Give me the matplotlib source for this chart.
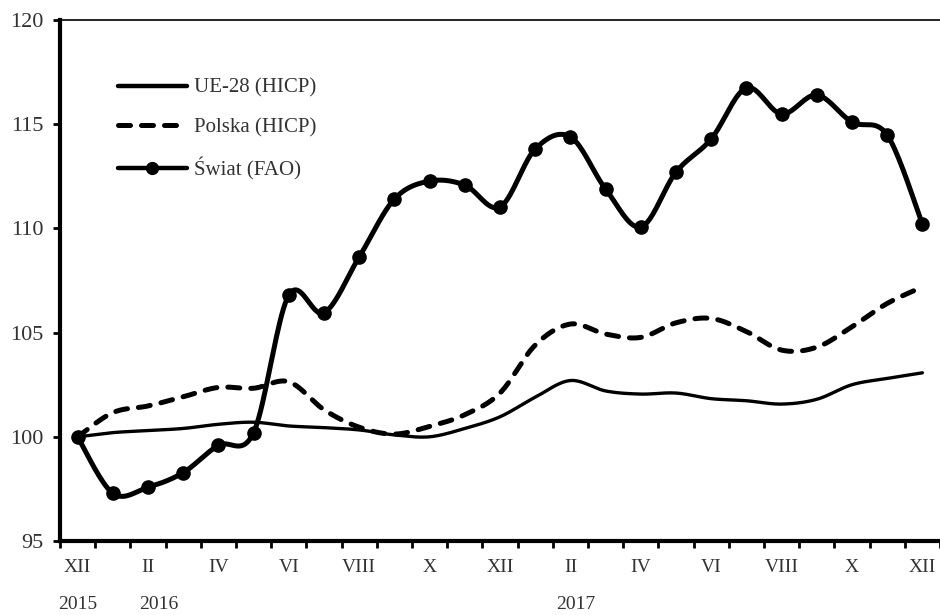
import numpy as np
import matplotlib
matplotlib.use("Agg")
import matplotlib.pyplot as plt
from matplotlib.lines import Line2D

# months XII 2015 .. XII 2017
month_labels = ["XII", "I", "II", "III", "IV", "V", "VI", "VII", "VIII", "IX", "X", "XI",
                "XII", "I", "II", "III", "IV", "V", "VI", "VII", "VIII", "IX", "X", "XI", "XII"]
year_labels = ["2015", "2016", "2017"]
year_pos = [0, 2.3, 14.15]

ue28 = [100.0, 100.2, 100.3, 100.4, 100.6, 100.7, 100.52, 100.44, 100.33, 100.09, 100.0, 100.4,
        100.96, 101.9, 102.7, 102.2, 102.05, 102.1, 101.83, 101.73, 101.57, 101.8, 102.5, 102.8, 103.07]
polska = [100.0, 101.16, 101.48, 101.92, 102.37, 102.33, 102.64, 101.3, 100.46, 100.13, 100.5, 101.06,
          102.1, 104.4, 105.41, 104.93, 104.77, 105.47, 105.68, 105.05, 104.16, 104.3, 105.28, 106.4, 107.19]
swiat = [100.0, 97.29, 97.58, 98.28, 99.59, 100.2, 106.8, 105.95, 108.63, 111.41, 112.27, 112.08,
         111.03, 113.81, 114.39, 111.89, 110.07, 112.7, 114.29, 116.74, 115.49, 116.4, 115.1, 114.48, 110.21]

series_names = ["UE-28 (HICP)", "Polska (HICP)", "Świat (FAO)"]

TXT = "#333333"
DASH = (0, (2.4, 2.2))


def smooth(x, y, n=20):
    # Catmull-Rom spline through the points (like Excel "smoothed line")
    p = np.column_stack([x, y]).astype(float)
    p = np.vstack([p[0], p, p[-1]])
    out = []
    t = np.linspace(0, 1, n, endpoint=False)[:, None]
    for i in range(1, len(p) - 2):
        p0, p1, p2, p3 = p[i - 1], p[i], p[i + 1], p[i + 2]
        seg = 0.5 * ((2 * p1) + (-p0 + p2) * t + (2 * p0 - 5 * p1 + 4 * p2 - p3) * t ** 2
                     + (-p0 + 3 * p1 - 3 * p2 + p3) * t ** 3)
        out.append(seg)
    out.append(p[-2][None, :])
    out = np.vstack(out)
    return out[:, 0], out[:, 1]


plt.rcParams["font.family"] = ["Liberation Serif", "DejaVu Serif"]

fig = plt.figure(figsize=(9.4, 6.15), dpi=100)
ax = fig.add_axes([60 / 940, 74 / 615, 880 / 940, 521 / 615])

x = np.arange(len(month_labels))

sx, sy = smooth(x, ue28)
ax.plot(sx, sy, color="black", lw=2.4, solid_capstyle="round")
sx, sy = smooth(x, polska)
ax.plot(sx, sy, color="black", lw=3.6, linestyle=DASH, dash_capstyle="round")
sx, sy = smooth(x, swiat)
ax.plot(sx, sy, color="black", lw=3.6, solid_capstyle="round")
ax.plot(x, swiat, linestyle="none", marker="o", markersize=9.5, color="black")

ax.set_xlim(-0.5, len(month_labels) - 0.5)
ax.set_ylim(95, 120)
ax.set_yticks(np.arange(95, 121, 5))

ax.set_xticks(np.arange(-0.5, len(month_labels), 1))
ax.set_xticklabels([])
ax.set_xticks(x[::2], minor=True)
ax.set_xticklabels(month_labels[::2], minor=True)
ax.tick_params(axis="x", which="major", direction="out", length=5, width=2, color="black")
ax.tick_params(axis="x", which="minor", length=0, pad=13, labelsize=14, labelcolor=TXT)
ax.tick_params(axis="y", direction="out", length=5, width=2, pad=7, labelsize=16, labelcolor=TXT)

for xp, lab in zip(year_pos, year_labels):
    ax.text(xp, -0.122, lab, transform=ax.get_xaxis_transform(), ha="center", va="center",
            fontsize=14, color=TXT)

ax.spines["left"].set_linewidth(3)
ax.spines["bottom"].set_linewidth(3)
ax.spines["top"].set_linewidth(1.2)
ax.spines["right"].set_visible(False)

handles = [
    Line2D([], [], color="black", lw=3.2, solid_capstyle="round"),
    Line2D([], [], color="black", lw=3.6, linestyle=DASH, dash_capstyle="round"),
    Line2D([], [], color="black", lw=3.2, marker="o", markersize=8.5, solid_capstyle="round"),
]
ax.legend(handles, series_names, loc="upper left", bbox_to_anchor=(0.066, 0.888),
          frameon=False, fontsize=15, handlelength=3.3, handletextpad=0.35,
          labelspacing=0.95, borderpad=0, borderaxespad=0, labelcolor=TXT)

fig.savefig("out.png", dpi=100)
